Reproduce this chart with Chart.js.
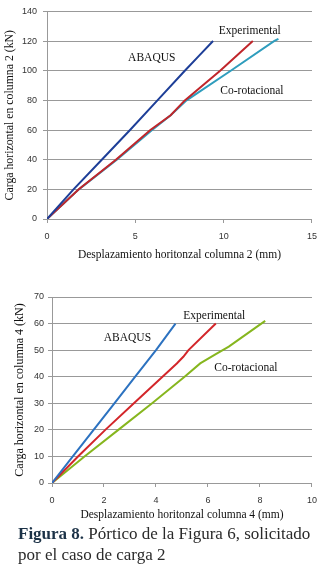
<!DOCTYPE html>
<html>
<head>
<meta charset="utf-8">
<script src="https://cdn.jsdelivr.net/npm/chart.js@4"></script>
<style>
  body { margin: 0; background: #fff; width: 325px; height: 567px; position: relative; overflow: hidden; }
  #wrap-top { position: absolute; left: 0; top: 0; }
  #wrap-bot { position: absolute; left: 0; top: 285px; }
  #caption {
    position: absolute; left: 18px; top: 523px; width: 300px;
    font-family: "Liberation Serif", serif; font-size: 17px; line-height: 21px;
    color: #2a2a2a;
  }
  #caption b { color: #1c3247; }
</style>
</head>
<body>
<div id="wrap-top"><canvas id="chart-top" width="325" height="262"></canvas></div>
<div id="wrap-bot"><canvas id="chart-bot" width="325" height="240"></canvas></div>
<div id="caption"><b>Figura 8.</b> Pórtico de la Figura 6, solicitado por el caso de carga 2</div>

<script>
// ---- top chart: columna 2 ----
const topAbaqusX = [0, 1.5, 3.1, 4.7, 6.25, 7.8, 8.6, 9.4];
const topAbaqusY = [0, 20, 40, 60, 80, 100, 110, 120];
const topExpX = [0, 1.8, 3.9, 5.85, 7.0, 7.8, 9.8, 11.65];
const topExpY = [0, 20, 40, 60, 70, 80, 100, 120];
const topCorotX = [0, 1.8, 3.95, 5.95, 7.0, 7.9, 10.4, 12.85, 13.1];
const topCorotY = [0, 20, 40, 60, 70, 80, 100, 120, 121.5];

// ---- bottom chart: columna 4 ----
const botAbaqusX = [0, 0.8, 1.6, 2.4, 3.2, 4.0, 4.75];
const botAbaqusY = [0, 10, 20, 30, 40, 50, 60];
const botExpX = [0, 1.0, 2.05, 3.15, 4.25, 4.8, 5.05, 5.25, 6.3];
const botExpY = [0, 10, 20, 30, 40, 45, 47.5, 50, 60];
const botCorotX = [0, 1.25, 2.55, 3.85, 5.1, 5.7, 6.3, 6.8, 8.2];
const botCorotY = [0, 10, 20, 30, 40, 45, 48.5, 51.3, 61];

const seriesNames = ["ABAQUS", "Experimental", "Co-rotacional"];

// label anchors in data units (x mm, y kN)
const topNoteX = [5.93, 11.48, 11.6];
const topNoteY = [108.7, 126.7, 86];
const botNoteX = [2.9, 6.24, 7.46];
const botNoteY = [54.6, 63, 43.3];

function toPoints(xs, ys) {
  return xs.map((x, i) => ({ x: x, y: ys[i] }));
}

// draws the series names as plain text inside the plot
const notesPlugin = {
  id: "notes",
  afterDatasetsDraw(chart, args, opts) {
    const ctx = chart.ctx;
    const xs = chart.scales.x, ys = chart.scales.y;
    ctx.save();
    ctx.font = '11.5px "Liberation Serif"';
    ctx.fillStyle = "#111";
    ctx.textAlign = "center";
    ctx.textBaseline = "middle";
    opts.names.forEach((name, i) => {
      ctx.fillText(name, xs.getPixelForValue(opts.xs[i]), ys.getPixelForValue(opts.ys[i]));
    });
    ctx.restore();
  }
};

function makeChart(id, cfg) {
  const ctx = document.getElementById(id).getContext("2d");
  const mkSet = (label, xs, ys, color) => ({
    label: label,
    data: toPoints(xs, ys),
    borderColor: color,
    borderWidth: 2,
    pointRadius: 0,
    showLine: true,
    tension: 0,
    fill: false
  });

  return new Chart(ctx, {
    type: "scatter",
    data: {
      datasets: [
        mkSet(seriesNames[0], cfg.abaqus[0], cfg.abaqus[1], cfg.colors[0]),
        mkSet(seriesNames[1], cfg.exp[0], cfg.exp[1], cfg.colors[1]),
        mkSet(seriesNames[2], cfg.corot[0], cfg.corot[1], cfg.colors[2])
      ]
    },
    options: {
      responsive: false,
      animation: false,
      devicePixelRatio: 1,
      layout: { padding: cfg.padding },
      plugins: {
        legend: { display: false },
        tooltip: { enabled: false },
        notes: { names: seriesNames, xs: cfg.noteX, ys: cfg.noteY }
      },
      scales: {
        x: {
          type: "linear",
          min: 0,
          max: cfg.xMax,
          afterFit: (s) => { s.height = cfg.xAxisH; },
          ticks: {
            stepSize: cfg.xStep,
            padding: 8,
            color: "#333",
            font: { family: "Liberation Sans", size: 9 }
          },
          grid: { drawOnChartArea: false, drawTicks: true, tickLength: 4, color: "#999" },
          border: { display: true, color: "#999" },
          title: {
            display: true,
            text: cfg.xTitle,
            color: "#111",
            font: { family: "Liberation Serif", size: 11.5 },
            padding: { top: 0, bottom: cfg.xTitlePad }
          }
        },
        y: {
          min: 0,
          max: cfg.yMax,
          afterFit: (s) => { s.width = cfg.yAxisW; },
          ticks: {
            stepSize: cfg.yStep,
            padding: cfg.yTickPad,
            color: "#333",
            font: { family: "Liberation Sans", size: 9 }
          },
          grid: { color: "#999", tickLength: 4 },
          border: { display: true, color: "#999" },
          title: {
            display: true,
            text: cfg.yTitle,
            color: "#111",
            font: { family: "Liberation Serif", size: cfg.yTitleSize },
            padding: { top: cfg.yTitlePad, bottom: 0 }
          }
        }
      }
    },
    plugins: [notesPlugin]
  });
}

makeChart("chart-top", {
  abaqus: [topAbaqusX, topAbaqusY],
  exp: [topExpX, topExpY],
  corot: [topCorotX, topCorotY],
  colors: ["#1e3f98", "#c0262b", "#2f9dbd"],
  noteX: topNoteX, noteY: topNoteY,
  padding: { top: 10, right: 7, left: 0, bottom: 0 },
  xMax: 15, xStep: 5, yMax: 140, yStep: 20,
  xAxisH: 43, yAxisW: 47, yTickPad: 6,
  xTitle: "Desplazamiento horitonzal columna 2 (mm)",
  yTitle: "Carga horizontal en columna 2 (kN)",
  xTitlePad: 0, yTitlePad: 3, yTitleSize: 11.8
});

makeChart("chart-bot", {
  abaqus: [botAbaqusX, botAbaqusY],
  exp: [botExpX, botExpY],
  corot: [botCorotX, botCorotY],
  colors: ["#2c72c0", "#d3262a", "#86b61e"],
  noteX: botNoteX, noteY: botNoteY,
  padding: { top: 12, right: 11, left: 0, bottom: 0 },
  xMax: 10, xStep: 2, yMax: 70, yStep: 10,
  xAxisH: 42, yAxisW: 52, yTickPad: 4,
  xTitle: "Desplazamiento horitonzal columna 4 (mm)",
  yTitle: "Carga horizontal en columna 4 (kN)",
  xTitlePad: 3, yTitlePad: 13, yTitleSize: 12
});
</script>
</body>
</html>
